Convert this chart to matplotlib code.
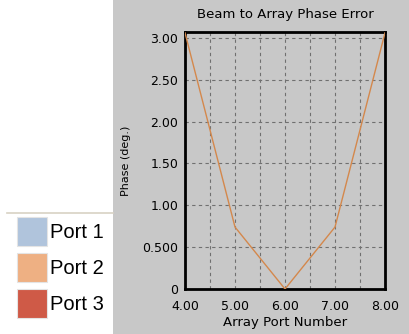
import matplotlib
matplotlib.use("Agg")
import matplotlib.pyplot as plt
from matplotlib.patches import Rectangle
from matplotlib.lines import Line2D

# data
port_number = [4, 5, 6, 7, 8]
phase_error = [3.06, 0.74, 0.0, 0.74, 3.06]
y_ticks = [0, 0.5, 1.0, 1.5, 2.0, 2.5, 3.0]
y_tick_labels = ["0", "0.500", "1.00", "1.50", "2.00", "2.50", "3.00"]
x_ticks = [4, 5, 6, 7, 8]
x_tick_labels = ["4.00", "5.00", "6.00", "7.00", "8.00"]
legend_names = ["Port 1", "Port 2", "Port 3"]
legend_colors = ["#b0c4dc", "#eeb083", "#cf5a47"]

W, H = 410, 334
fig = plt.figure(figsize=(W / 100, H / 100), dpi=100)
fig.patch.set_facecolor("white")

# gray chart panel on the right
fig.patches.append(Rectangle((113 / W, 0), 1 - 113 / W, 1, transform=fig.transFigure,
                             facecolor="#c8c8c8", edgecolor="none", zorder=-5))

# legend on the left
fig.add_artist(Line2D([7 / W, 113 / W], [1 - 213 / H, 1 - 213 / H],
                      transform=fig.transFigure, color="#d8d2c4", lw=1.2))
for i, (name, col) in enumerate(zip(legend_names, legend_colors)):
    top = 217 + i * 36
    fig.patches.append(Rectangle((17 / W, 1 - (top + 29) / H), 30 / W, 29 / H,
                                 transform=fig.transFigure, facecolor=col,
                                 edgecolor="#e4e4e4", lw=0.8))
    fig.text(50 / W, 1 - (top + 15) / H, name, fontsize=14.5, va="center",
             ha="left", family="Liberation Sans")

ax = fig.add_axes([185 / W, 1 - 289 / H, 200 / W, 257 / H])
ax.set_zorder(2)
ax.set_facecolor("#c8c8c8")
ax.plot(port_number, phase_error, color="#d4884c", lw=1.0, zorder=3)
ax.set_xlim(4, 8)
ax.set_ylim(0, 3.07)
ax.set_xticks(x_ticks)
ax.set_xticklabels(x_tick_labels)
ax.set_xticks([4.5, 5.5, 6.5, 7.5], minor=True)
ax.set_yticks(y_ticks)
ax.set_yticklabels(y_tick_labels)
ax.grid(True, which="both", color="#707070", ls=(0, (3, 3)), lw=0.8)
ax.tick_params(which="both", length=0, labelsize=9)
ax.tick_params(axis="x", pad=8)
ax.tick_params(axis="y", pad=5)
for s in ax.spines.values():
    s.set_linewidth(2)
    s.set_color("black")
ax.set_title("Beam to Array Phase Error", fontsize=9.5, pad=10)
ax.set_xlabel("Array Port Number", fontsize=9.5, labelpad=2)
ax.set_ylabel("Phase (deg.)", fontsize=8, labelpad=8)

fig.savefig("out.png", dpi=100)
